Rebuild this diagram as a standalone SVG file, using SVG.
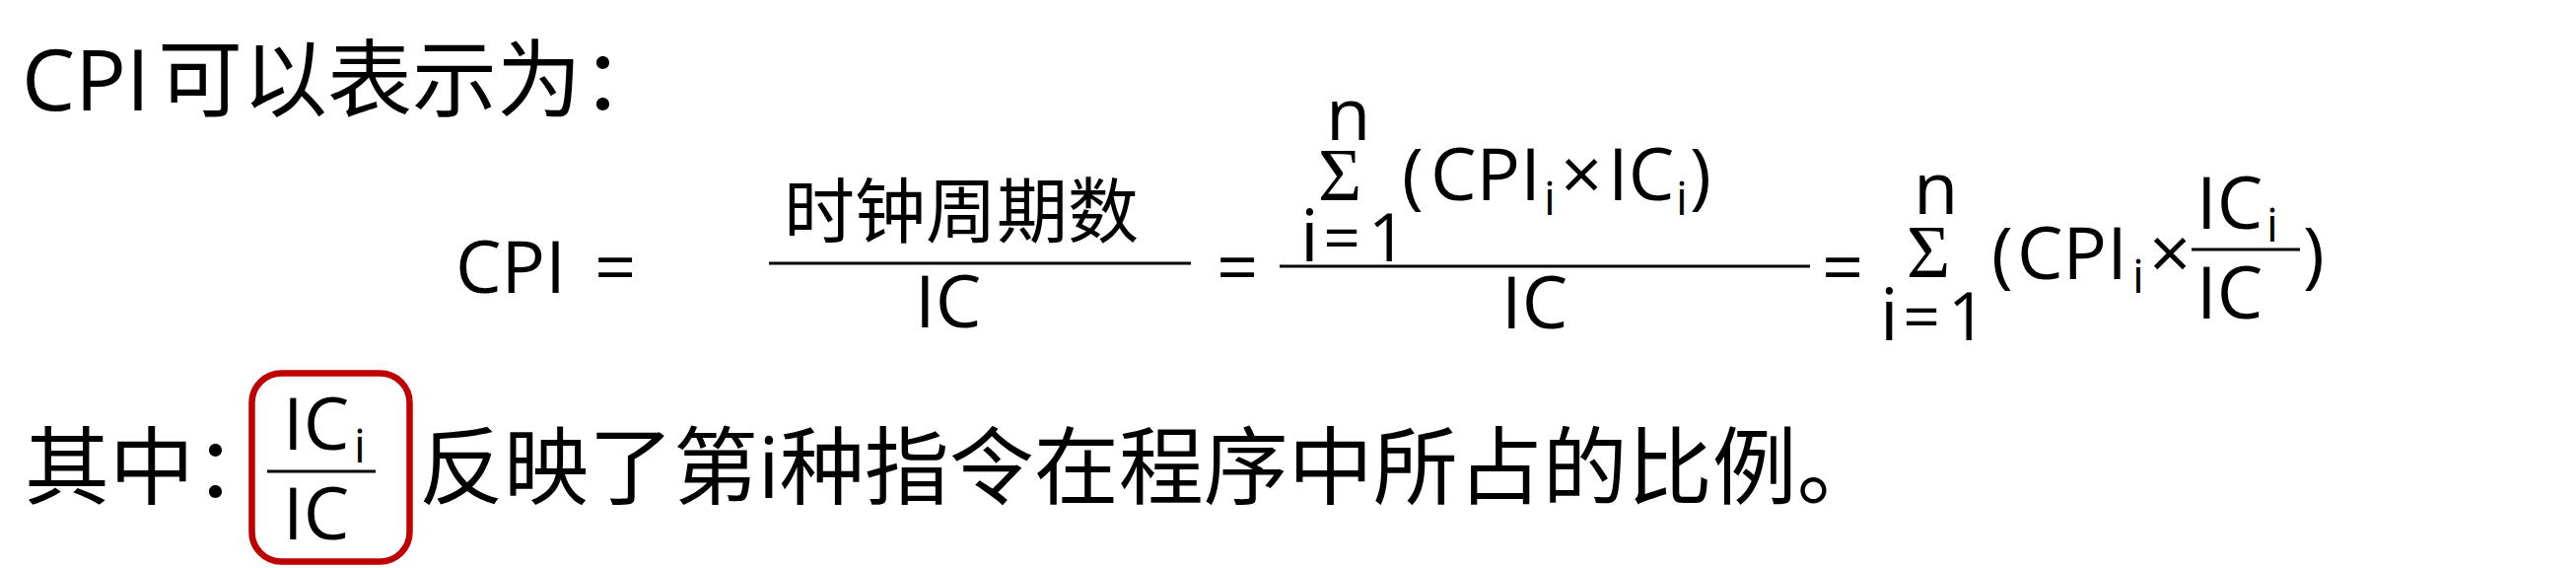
<svg xmlns="http://www.w3.org/2000/svg" width="2613" height="576" viewBox="0 0 2613 576">
<style>
text{font-family:"Open Sans","Noto Sans CJK SC",sans-serif;fill:#000}
.l{font-size:86px}
.m{font-size:74px}
.s{font-size:47px}
.e{font-size:66px;text-anchor:middle}
.o{font-size:68px}
.z{font-size:72px;font-family:"Noto Sans CJK SC",sans-serif}
.sig{font-family:"Liberation Serif","Noto Sans CJK SC",serif;font-size:76px;text-anchor:middle}
.bar{stroke:#000;stroke-width:3}
.box{fill:none;stroke:#C00000;stroke-width:6.5}
</style>
<rect width="2613" height="576" fill="#fff"/>
<g id="line1"><text class="l" x="22" y="112">CPI<tspan x="160">可以表示为：</tspan></text></g>
<g id="equation">
 <text class="m" x="462" y="297">CPI</text>
 <text class="m" x="603" y="297">=</text>
 <g id="frac1">
  <text class="z" x="795" y="240">时钟周期数</text>
  <line class="bar" x1="780" y1="267" x2="1208" y2="267"/>
  <text class="m" x="928" y="332">IC</text>
 </g>
 <text class="m" x="1234" y="297">=</text>
 <g id="frac2">
  <text class="m" x="1345" y="142">n</text>
  <text class="sig" x="1359" y="203">Σ</text>
  <text class="m" x="1319" y="265">i</text>
  <text class="e" x="1361" y="264">=</text>
  <text class="o" x="1388" y="265">1</text>
  <text class="m" x="1422" y="203">(</text>
  <text class="m" x="1451" y="203">CPI</text>
  <text class="s" x="1566" y="218">i</text>
  <text class="m" x="1583" y="203">×</text>
  <text class="m" x="1631" y="203">IC</text>
  <text class="s" x="1700" y="218">i</text>
  <text class="m" x="1714" y="203">)</text>
  <line class="bar" x1="1298" y1="270" x2="1836" y2="270"/>
  <text class="m" x="1523" y="333">IC</text>
 </g>
 <text class="m" x="1848" y="297">=</text>
 <g id="sum3">
  <text class="m" x="1941" y="217">n</text>
  <text class="sig" x="1956" y="281">Σ</text>
  <text class="m" x="1907" y="345">i</text>
  <text class="e" x="1949" y="344">=</text>
  <text class="o" x="1976" y="345">1</text>
  <text class="m" x="2020" y="283">(</text>
  <text class="m" x="2046" y="283">CPI</text>
  <text class="s" x="2163" y="297">i</text>
  <text class="m" x="2180" y="283">×</text>
  <text class="m" x="2228" y="232">IC</text>
  <text class="s" x="2299" y="245">i</text>
  <line class="bar" x1="2223" y1="253" x2="2333" y2="253"/>
  <text class="m" x="2228" y="323">IC</text>
  <text class="m" x="2336" y="283">)</text>
 </g>
</g>
<g id="note">
 <text class="l" x="25" y="505">其中：</text>
 <g id="ratio">
  <rect class="box" x="255.5" y="378.5" width="160" height="191" rx="30"/>
  <text class="m" x="287" y="456">IC</text>
  <text class="s" x="359" y="469">i</text>
  <line class="bar" x1="271" y1="478" x2="381" y2="478"/>
  <text class="m" x="287" y="547">IC</text>
 </g>
 <text class="l" x="425" y="505">反映了第i种指令在程序中所占的比例。</text>
</g>
</svg>
